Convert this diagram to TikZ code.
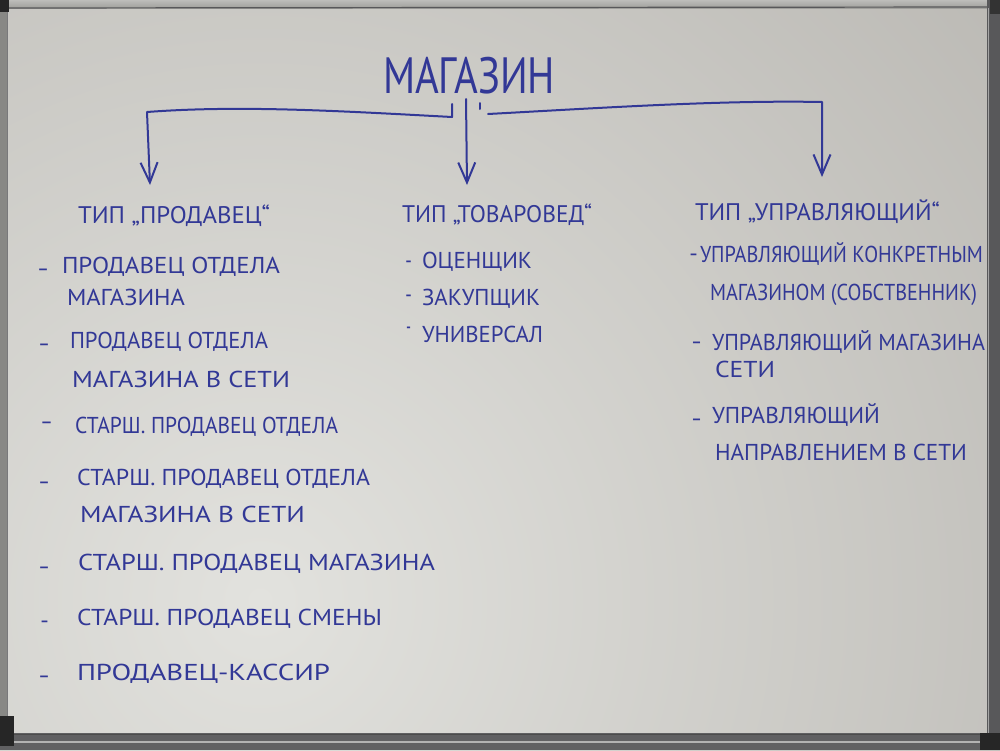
\documentclass[tikz,border=0pt]{standalone}
\usepackage{fontspec}
\setmainfont{PT Sans}
\usetikzlibrary{arrows.meta}

\definecolor{ink}{RGB}{50,56,150}
\definecolor{boardlight}{RGB}{226,226,222}
\definecolor{boarddark}{RGB}{184,182,177}
\definecolor{alu}{RGB}{160,160,156}
\definecolor{aludark}{RGB}{88,88,90}

% horizontally fitted handwritten-style line: width in pt, text
\newcommand{\hw}[2]{\resizebox{#1pt}{\height}{#2}}

\begin{document}
\begin{tikzpicture}[x=1pt,y=-1pt,
  every node/.style={inner sep=0pt, outer sep=0pt, text=ink},
  txt/.style={anchor=base west, font=\fontsize{23}{23}\selectfont},
  headtxt/.style={anchor=base west, font=\fontsize{24}{24}\selectfont},
  titletxt/.style={anchor=base west, font=\fontsize{51}{51}\selectfont},
  dashmark/.style={anchor=base west, font=\fontsize{23}{23}\selectfont},
  wire/.style={draw=ink, line width=2pt, line cap=round, line join=round},
  tip/.style={-{Straight Barb[length=20pt,width=17pt,line width=2pt]}}
]
\useasboundingbox (0,0) rectangle (1000,750);

% board surface
\begin{scope}
  \clip (0,0) rectangle (1000,750);
  \shade[inner color=boardlight, outer color=boarddark] (260,600) circle (1050);
\end{scope}

% aluminium frame
\shade[top color=alu!70!white, bottom color=alu] (0,0) rectangle (1000,8);
\draw[aludark, line width=1.2pt] (6,8) -- (990,7);
\fill[alu!85!black] (0,0) rectangle (7,735);
\draw[aludark!80, line width=1pt] (7,8) -- (7,735);
\fill[aludark] (987,0) rectangle (1000,750);
\draw[gray!70, line width=1pt] (988,8) -- (988,735);
\fill[aludark!95] (0,733) rectangle (1000,750);
\draw[gray!60!white, line width=1.5pt] (0,742) -- (1000,742);
\draw[black!70, line width=1pt] (0,734) -- (1000,734);
% corner caps
\fill[black!85] (0,0) rectangle (9,12);
\fill[black!85] (0,716) rectangle (14,746);
\fill[black!85] (980,733) rectangle (1000,750);
\fill[black!80] (990,0) rectangle (1000,14);

% title
\node[titletxt] (title) at (383,93) {\hw{172}{МАГАЗИН}};

% branch connectors
\coordinate (lup) at (452,104);
\coordinate (lknee) at (452,117);
\coordinate (lcorner) at (147,112);
\coordinate (ltip) at (150,185);
\coordinate (ctop) at (466,99);
\coordinate (ctip) at (467,185);
\coordinate (ticktop) at (480,103);
\coordinate (tickbot) at (480,109);
\coordinate (rstart) at (488,114);
\coordinate (rcorner) at (822,102);
\coordinate (rtip) at (822,177);

\draw[wire, tip] (lup) -- (lknee) .. controls (340,111) and (240,105) .. (lcorner) -- (ltip);
\draw[wire, tip] (ctop) -- (ctip);
\draw[wire] (ticktop) -- (tickbot);
\draw[wire, tip] (rstart) .. controls (600,108) and (720,100) .. (rcorner) -- (rtip);

% headings
\node[headtxt] (h1) at (78,223) {\hw{192}{ТИП „ПРОДАВЕЦ“}};
\node[headtxt] (h2) at (402,222) {\hw{190}{ТИП „ТОВАРОВЕД“}};
\node[headtxt] (h3) at (695,220) {\hw{245}{ТИП „УПРАВЛЯЮЩИЙ“}};

% seller types
\node[dashmark] (ld1) at (37,276) {\hw{12}{–}};
\node[txt] (l1a) at (62,273) {\hw{218}{ПРОДАВЕЦ ОТДЕЛА}};
\node[txt] (l1b) at (67,305) {\hw{118}{МАГАЗИНА}};
\node[dashmark] (ld2) at (38,351) {\hw{12}{–}};
\node[txt] (l2a) at (70,348) {\hw{198}{ПРОДАВЕЦ ОТДЕЛА}};
\node[txt] (l2b) at (72,387) {\hw{218}{МАГАЗИНА В СЕТИ}};
\node[dashmark] (ld3) at (40,429) {\hw{13}{–}};
\node[txt] (l3) at (75,433) {\hw{263}{СТАРШ. ПРОДАВЕЦ ОТДЕЛА}};
\node[dashmark] (ld4) at (38,489) {\hw{12}{–}};
\node[txt] (l4a) at (77,485) {\hw{293}{СТАРШ. ПРОДАВЕЦ ОТДЕЛА}};
\node[txt] (l4b) at (80,522) {\hw{225}{МАГАЗИНА В СЕТИ}};
\node[dashmark] (ld5) at (38,574) {\hw{12}{–}};
\node[txt] (l5) at (78,570) {\hw{357}{СТАРШ. ПРОДАВЕЦ МАГАЗИНА}};
\node[dashmark] (ld6) at (40,628) {\hw{9}{–}};
\node[txt] (l6) at (77,625) {\hw{305}{СТАРШ. ПРОДАВЕЦ СМЕНЫ}};
\node[dashmark] (ld7) at (38,683) {\hw{12}{–}};
\node[txt] (l7) at (77,680) {\hw{253}{ПРОДАВЕЦ-КАССИР}};

% merchandiser types
\node[dashmark] (md1) at (405,268) {\hw{7}{–}};
\node[txt] (m1) at (422,268) {\hw{110}{ОЦЕНЩИК}};
\node[dashmark] (md2) at (405,302) {\hw{7}{–}};
\node[txt] (m2) at (422,305) {\hw{118}{ЗАКУПЩИК}};
\node[dashmark] (md3) at (406,334) {\hw{5}{–}};
\node[txt] (m3) at (422,342) {\hw{121}{УНИВЕРСАЛ}};

% manager types
\node[dashmark] (rd1) at (689,261) {\hw{9}{–}};
\node[txt] (r1a) at (700,262) {\hw{283}{УПРАВЛЯЮЩИЙ КОНКРЕТНЫМ}};
\node[txt] (r1b) at (710,300) {\hw{267}{МАГАЗИНОМ (СОБСТВЕННИК)}};
\node[dashmark] (rd2) at (691,349) {\hw{11}{–}};
\node[txt] (r2a) at (712,350) {\hw{273}{УПРАВЛЯЮЩИЙ МАГАЗИНА}};
\node[txt] (r2b) at (715,377) {\hw{60}{СЕТИ}};
\node[dashmark] (rd3) at (691,426) {\hw{11}{–}};
\node[txt] (r3a) at (712,423) {\hw{168}{УПРАВЛЯЮЩИЙ}};
\node[txt] (r3b) at (715,460) {\hw{252}{НАПРАВЛЕНИЕМ В СЕТИ}};
\end{tikzpicture}
\end{document}
